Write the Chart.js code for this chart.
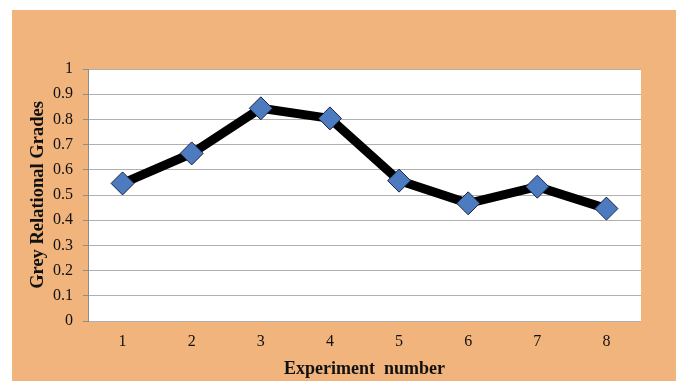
<!DOCTYPE html>
<html>
<head>
<meta charset="utf-8">
<script src="https://cdn.jsdelivr.net/npm/chart.js@4.4.1/dist/chart.umd.min.js"></script>
<style>
    html, body { margin: 0; padding: 0; background: #ffffff; }
    #wrap {
        position: absolute;
        left: 12px; top: 10px;
        width: 664px; height: 371px;
        background: #f0b47c;
    }
</style>
</head>
<body>
<div id="wrap"><canvas id="greyChart" width="664" height="371"></canvas></div>
<script>
// Dados do gráfico
const experimentos = ['1', '2', '3', '4', '5', '6', '7', '8'];
const grausRelacionais = [0.546, 0.665, 0.844, 0.804, 0.557, 0.467, 0.533, 0.446];
const yMin = 0, yMax = 1, yPasso = 0.1;

// Fundo branco da área do gráfico
const fundoArea = {
    id: 'fundoArea',
    beforeDraw(chart) {
        const { ctx, chartArea: a } = chart;
        ctx.save();
        ctx.fillStyle = '#ffffff';
        ctx.fillRect(a.left, a.top, a.right - a.left, a.bottom - a.top);
        ctx.restore();
    }
};

const serif = "'Liberation Serif', 'Times New Roman', serif";

const ctx = document.getElementById('greyChart').getContext('2d');
const greyChart = new Chart(ctx, {
    type: 'line',
    data: {
        labels: experimentos,
        datasets: [{
            data: grausRelacionais,
            borderColor: '#000000',
            borderWidth: 9,
            tension: 0,
            pointStyle: 'rectRot',
            pointRadius: 11.5,
            pointHoverRadius: 11.5,
            pointBackgroundColor: '#4d7bc0',
            pointBorderColor: '#1a2240',
            pointBorderWidth: 1
        }]
    },
    options: {
        responsive: false,
        animation: false,
        layout: { padding: { left: 4, top: 59, right: 35, bottom: 0 } },
        plugins: {
            legend: { display: false },
            tooltip: { enabled: false }
        },
        scales: {
            x: {
                offset: true,
                grid: { display: false, drawTicks: false },
                border: { display: false },
                ticks: {
                    padding: 11,
                    color: '#111111',
                    font: { family: serif, size: 16 }
                },
                title: {
                    display: true,
                    text: 'Experiment  number',
                    color: '#111111',
                    font: { family: serif, size: 18, weight: 'bold' },
                    padding: { top: 0, bottom: 1 }
                },
                afterFit(scale) { scale.height = 60; }
            },
            y: {
                min: yMin,
                max: yMax,
                ticks: {
                    stepSize: yPasso,
                    padding: 10,
                    color: '#111111',
                    font: { family: serif, size: 16 },
                    callback: v => String(Number(v.toFixed(1)))
                },
                grid: {
                    color: '#b0b0b0',
                    lineWidth: 1,
                    tickLength: 5,
                    tickColor: '#8c8c8c'
                },
                border: { color: '#8c8c8c', width: 1 },
                title: {
                    display: true,
                    text: 'Grey Relational Grades',
                    color: '#111111',
                    font: { family: serif, size: 18.5, weight: 'bold' },
                    padding: { top: 11, bottom: 0 }
                },
                afterFit(scale) { scale.width = 72; }
            }
        }
    },
    plugins: [fundoArea]
});
</script>
</body>
</html>
